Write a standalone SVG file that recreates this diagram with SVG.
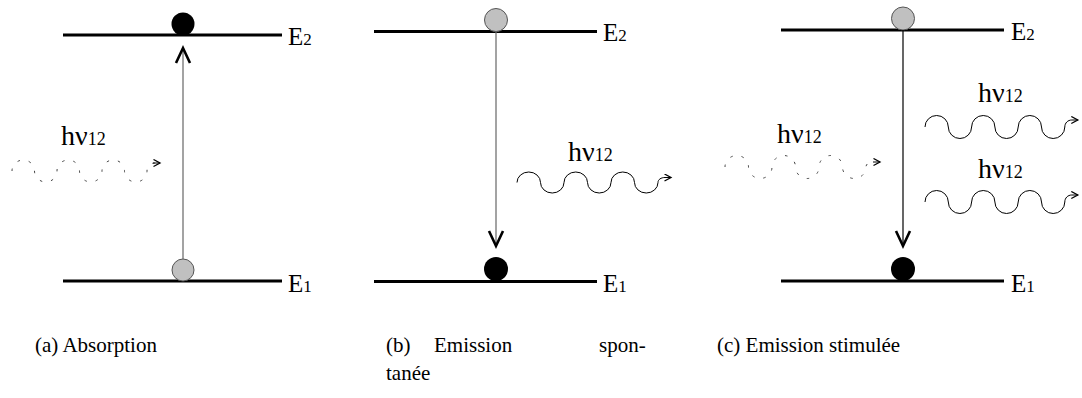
<svg xmlns="http://www.w3.org/2000/svg" width="1082" height="398" viewBox="0 0 1082 398">
<defs>
<style>
.lvl{stroke:#000;stroke-width:3;fill:none}
.trans{stroke:#666;stroke-width:1.2;fill:none}
.transc{stroke:#000;stroke-width:1.2;fill:none}
.wave{stroke:#000;stroke-width:1;fill:none}
.dwave{stroke:#444;stroke-width:1;fill:none;stroke-dasharray:2.5 9}
.head{stroke:#000;stroke-width:2.6;fill:none;stroke-linejoin:miter;stroke-miterlimit:10}
.gray{fill:#c0c0c0;stroke:#555;stroke-width:1}
.black{fill:#000}
text{font-family:"Liberation Serif","Times New Roman",serif;fill:#000}
</style>
<marker id="ah" markerUnits="userSpaceOnUse" markerWidth="10" markerHeight="10" refX="7" refY="4" orient="auto">
<path d="M0.5,0.5 L7,4 L0.5,7.5" fill="none" stroke="#000" stroke-width="1.3"/>
</marker>
</defs>

<!-- Panel a: Absorption -->
<g id="panel-a">
<g id="a-levels">
<line class="lvl" x1="63" y1="35" x2="282" y2="35"/>
<line class="lvl" x1="63" y1="281" x2="282" y2="281"/>
<text font-size="25" x="288" y="45">E<tspan font-size="17">2</tspan></text>
<text font-size="25" x="288" y="292">E<tspan font-size="17">1</tspan></text>
</g>
<circle id="a-e2" class="black" cx="183" cy="24" r="11.5"/>
<circle id="a-e1" class="gray" cx="183" cy="270" r="11"/>
<text font-size="28" x="61" y="145">hν<tspan font-size="18">12</tspan></text>
</g>

<!-- Panel b: Emission spontanee -->
<g id="panel-b">
<g id="b-levels">
<line class="lvl" x1="374" y1="31.5" x2="597" y2="31.5"/>
<line class="lvl" x1="374" y1="281.5" x2="597" y2="281.5"/>
<text font-size="25" x="603" y="41">E<tspan font-size="17">2</tspan></text>
<text font-size="25" x="603" y="292">E<tspan font-size="17">1</tspan></text>
</g>
<circle id="b-e2" class="gray" cx="496" cy="20" r="11.5"/>
<circle id="b-e1" class="black" cx="496" cy="269" r="12"/>
<text font-size="28" x="568" y="161">hν<tspan font-size="18">12</tspan></text>
</g>

<!-- Panel c: Emission stimulee -->
<g id="panel-c">
<g id="c-levels">
<line class="lvl" x1="781" y1="30" x2="1004" y2="30"/>
<line class="lvl" x1="781" y1="281" x2="1004" y2="281"/>
<text font-size="25" x="1011" y="40">E<tspan font-size="17">2</tspan></text>
<text font-size="25" x="1011" y="292">E<tspan font-size="17">1</tspan></text>
</g>
<circle id="c-e2" class="gray" cx="903" cy="18.5" r="11.5"/>
<circle id="c-e1" class="black" cx="903" cy="269" r="12"/>
<text font-size="28" x="777" y="143">hν<tspan font-size="18">12</tspan></text>
<text font-size="28" x="978" y="102">hν<tspan font-size="18">12</tspan></text>
<text font-size="28" x="978" y="178">hν<tspan font-size="18">12</tspan></text>
</g>

<!-- Connectors -->
<g id="connectors">
<line class="trans" x1="183" y1="259" x2="183" y2="49"/>
<polyline class="head" points="176,63 183,48 190,63"/>
<line class="trans" x1="496" y1="31" x2="496" y2="246"/>
<polyline class="head" points="489,231 496,246 503,231"/>
<line class="transc" x1="903" y1="30" x2="903" y2="246"/>
<polyline class="head" points="896,231 903,246 910,231"/>

<path class="dwave" d="M12,171 a11.25,11 0 0 1 22.5,0 a11.25,11 0 0 0 22.5,0 a11.25,11 0 0 1 22.5,0 a11.25,11 0 0 0 22.5,0 a11.25,11 0 0 1 22.5,0 a11.25,11 0 0 0 22.5,0 c0,-5 3,-8 8,-8"/>
<line x1="153" y1="163" x2="160" y2="163" stroke="#000" stroke-width="1" marker-end="url(#ah)"/>

<path class="wave" marker-end="url(#ah)" d="M517,182.5 a11.75,10.5 0 0 1 23.5,0 a11.75,10.5 0 0 0 23.5,0 a11.75,10.5 0 0 1 23.5,0 a11.75,10.5 0 0 0 23.5,0 a11.75,10.5 0 0 1 23.5,0 a11.75,10.5 0 0 0 23.5,0 c0,-3 3,-5 7,-5 l6,0"/>

<path class="dwave" d="M725,167 a11.75,11.5 0 0 1 23.5,0 a11.75,11.5 0 0 0 23.5,0 a11.75,11.5 0 0 1 23.5,0 a11.75,11.5 0 0 0 23.5,0 a11.75,11.5 0 0 1 23.5,0 a11.75,11.5 0 0 0 23.5,0 c0,-3 3,-5 7,-5"/>
<line x1="873" y1="162" x2="880" y2="162" stroke="#000" stroke-width="1" marker-end="url(#ah)"/>

<path class="wave" marker-end="url(#ah)" d="M925,127 a11.65,11.5 0 0 1 23.3,0 a11.65,11.5 0 0 0 23.3,0 a11.65,11.5 0 0 1 23.3,0 a11.65,11.5 0 0 0 23.3,0 a11.65,11.5 0 0 1 23.3,0 a11.65,11.5 0 0 0 23.3,0 c0,-4 3,-7 7,-7 l6,0"/>
<path class="wave" marker-end="url(#ah)" d="M925,202 a11.65,11.5 0 0 1 23.3,0 a11.65,11.5 0 0 0 23.3,0 a11.65,11.5 0 0 1 23.3,0 a11.65,11.5 0 0 0 23.3,0 a11.65,11.5 0 0 1 23.3,0 a11.65,11.5 0 0 0 23.3,0 c0,-4 3,-7 7,-7 l6,0"/>
</g>

<!-- Captions -->
<g id="captions" font-size="21">
<text font-size="21" x="35" y="352">(a) Absorption</text>
<text font-size="21" y="352"><tspan x="386">(b)</tspan><tspan x="434">Emission</tspan><tspan x="599">spon-</tspan></text>
<text font-size="21" x="386" y="380">tanée</text>
<text font-size="21" x="717" y="352">(c) Emission stimulée</text>
</g>
</svg>
